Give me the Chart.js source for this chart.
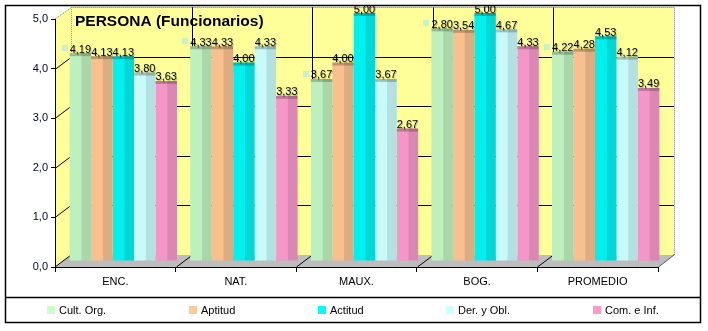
<!DOCTYPE html>
<html><head><meta charset="utf-8">
<script src="https://cdn.jsdelivr.net/npm/chart.js@4.4.0/dist/chart.umd.min.js"></script>
<style>html,body{margin:0;padding:0;background:#fff;}#wrap{width:708px;height:331px;position:relative;}</style>
</head><body><div id="wrap"><canvas id="c" width="708" height="331"></canvas></div>
<script>
const categories = ['ENC.', 'NAT.', 'MAUX.', 'BOG.', 'PROMEDIO'];
const seriesNames = ['Cult. Org.', 'Aptitud', 'Actitud', 'Der. y Obl.', 'Com. e Inf.'];
const cultOrg = [4.19, 4.33, 3.67, 4.69, 4.22];
const aptitud = [4.13, 4.33, 4.00, 4.66, 4.28];
const actitud = [4.13, 4.00, 5.00, 5.00, 4.53];
const derObl  = [3.80, 4.33, 3.67, 4.67, 4.12];
const comInf  = [3.63, 3.33, 2.67, 4.33, 3.49];
const cultOrgLabels = ['4,19', '4,33', '3,67', '2,80', '4,22'];
const aptitudLabels = ['4,13', '4,33', '4,00', '3,54', '4,28'];
const actitudLabels = ['4,13', '4,00', '5,00', '5,00', '4,53'];
const derOblLabels  = ['3,80', '4,33', '3,67', '4,67', '4,12'];
const comInfLabels  = ['3,63', '3,33', '2,67', '4,33', '3,49'];
const yTicks = [0, 1, 2, 3, 4, 5];
const titleText = 'PERSONA (Funcionarios)';

const seriesValues = [cultOrg, aptitud, actitud, derObl, comInf];
const seriesLabels = [cultOrgLabels, aptitudLabels, actitudLabels, derOblLabels, comInfLabels];
const barColors = ['#BDF0BD', '#F8C08F', '#00F0F0', '#C8FAFA', '#F596C8'];
const keyColors = ['#CCFFCC', '#FFCC99', '#00FFFF', '#CCFFFF', '#FF99CC'];

const DX = 16, DY = -12, BX = 8, BY = -6;
const FONT = 'Arial, "Liberation Sans", sans-serif';

function poly(ctx, pts, fill, stroke) {
  ctx.beginPath();
  ctx.moveTo(pts[0][0], pts[0][1]);
  for (let i = 1; i < pts.length; i++) ctx.lineTo(pts[i][0], pts[i][1]);
  ctx.closePath();
  if (fill) { ctx.fillStyle = fill; ctx.fill(); }
  if (stroke) { ctx.strokeStyle = stroke; ctx.stroke(); }
}
function line(ctx, pts, color, dash) {
  ctx.beginPath();
  ctx.setLineDash(dash || []);
  ctx.moveTo(pts[0][0], pts[0][1]);
  for (let i = 1; i < pts.length; i++) ctx.lineTo(pts[i][0], pts[i][1]);
  ctx.strokeStyle = color; ctx.lineWidth = 1; ctx.stroke();
  ctx.setLineDash([]);
}

const walls = {
  id: 'walls',
  beforeDraw(chart) {
    const { ctx, chartArea: a, scales: { x, y } } = chart;
    ctx.save();
    ctx.fillStyle = '#fff'; ctx.fillRect(0, 0, chart.width, chart.height);
    ctx.fillStyle = '#FFFF99';
    ctx.fillRect(a.left + DX, a.top + DY, a.right - a.left, a.bottom - a.top);
    poly(ctx, [[a.left, a.top], [a.left + DX, a.top + DY], [a.left + DX, a.bottom + DY], [a.left, a.bottom]], '#FFFF99');
    poly(ctx, [[a.left, a.bottom], [a.right, a.bottom], [a.right + DX, a.bottom + DY], [a.left + DX, a.bottom + DY]], '#BDBDBD');
    yTicks.forEach(v => {
      if (v === 0 || v === 5) return;
      const py = Math.round(y.getPixelForValue(v)) + 0.5;
      line(ctx, [[a.left, py], [a.left + DX, py + DY], [a.right + DX, py + DY]], '#000');
    });
    for (let i = 1; i < categories.length; i++) {
      const bx = Math.round((x.getPixelForValue(i - 1) + x.getPixelForValue(i)) / 2) + 0.5;
      line(ctx, [[bx + DX, a.top + DY], [bx + DX, a.bottom + DY]], '#000');
      line(ctx, [[bx, a.bottom], [bx + DX, a.bottom + DY]], '#000');
    }
    line(ctx, [[a.left, a.top], [a.left + DX + 0.5, a.top + DY + 0.5], [a.right + DX + 0.5, a.top + DY + 0.5], [a.right + DX + 0.5, a.bottom + DY]], '#777', [1, 1]);
    line(ctx, [[a.left + DX + 0.5, a.top + DY], [a.left + DX + 0.5, a.bottom + DY]], '#999', [1, 1]);
    line(ctx, [[a.left, a.bottom], [a.left + DX, a.bottom + DY]], '#000');
    line(ctx, [[a.right + 0.5, a.bottom], [a.right + DX, a.bottom + DY], [a.right + DX, a.bottom + DY - 1]], '#555');
    ctx.restore();
  },
  beforeDatasetsDraw(chart) {
    chart.ctx.save();
    chart.ctx.translate(BX, BY);
  },
  afterDatasetsDraw(chart) {
    const ctx = chart.ctx;
    chart.data.datasets.forEach((ds, i) => {
      const meta = chart.getDatasetMeta(i);
      meta.data.forEach(bar => {
        const p = bar.getProps(['x', 'y', 'base', 'width'], true);
        const l = p.x - p.width / 2;
        ctx.fillStyle = 'rgba(0,0,0,0.10)';
        ctx.fillRect(p.x + p.width * 0.05, p.y, p.width * 0.45, p.base - p.y);
        ctx.fillStyle = 'rgba(0,0,0,0.22)';
        ctx.fillRect(l, p.y, p.width, 3);
      });
    });
    ctx.restore();
  },
  afterDraw(chart) {
    const { ctx, chartArea: a } = chart;
    ctx.save();
    ctx.font = '11px ' + FONT;
    ctx.textAlign = 'center';
    ctx.textBaseline = 'bottom';
    chart.data.datasets.forEach((ds, i) => {
      const meta = chart.getDatasetMeta(i);
      meta.data.forEach((bar, j) => {
        const p = bar.getProps(['x', 'y'], true);
        const tx = p.x + BX, ty = p.y + BY + 2;
        const txt = seriesLabels[i][j];
        if (i === 0) {
          const tw = ctx.measureText(txt).width;
          ctx.fillStyle = '#C8F2C8';
          ctx.fillRect(Math.round(tx - tw / 2 - 8), Math.round(ty - 10), 6, 6);
        }
        ctx.fillStyle = 'rgba(0,0,0,0.25)';
        ctx.fillText(txt, tx + 1, ty + 1);
        ctx.fillStyle = '#000';
        ctx.fillText(txt, tx, ty);
      });
    });
    ctx.textAlign = 'left';
    ctx.textBaseline = 'alphabetic';
    ctx.font = 'bold 15.5px ' + FONT;
    ctx.fillStyle = '#000';
    ctx.fillText(titleText, a.left + DX + 4, a.top + DY + 19);
    ctx.strokeStyle = '#000';
    ctx.lineWidth = 1.5;
    ctx.strokeRect(5.5, 5.5, 695, 317);
    ctx.beginPath(); ctx.moveTo(5.5, 297.5); ctx.lineTo(700.5, 297.5); ctx.stroke();
    // legend: items spaced evenly (space-around)
    ctx.font = '11px ' + FONT;
    ctx.textBaseline = 'middle';
    const items = chart.data.datasets.map(ds => 8 + 4 + ctx.measureText(ds.label).width);
    const total = items.reduce((s, w) => s + w, 0);
    const gap = (695 - total) / items.length;
    let cur = 5.5 + gap / 2;
    chart.data.datasets.forEach((ds, k) => {
      const sx = Math.round(cur);
      ctx.fillStyle = keyColors[k];
      ctx.fillRect(sx, 306, 8, 8);
      ctx.fillStyle = '#000';
      ctx.fillText(ds.label, sx + 12, 310.5);
      cur += items[k] + gap;
    });
    ctx.restore();
  }
};

new Chart(document.getElementById('c'), {
  type: 'bar',
  data: {
    labels: categories,
    datasets: seriesNames.map((name, i) => ({
      label: name,
      data: seriesValues[i],
      backgroundColor: barColors[i],
      borderWidth: 0,
      barPercentage: 1,
      categoryPercentage: 0.89,
      clip: false
    }))
  },
  options: {
    responsive: false,
    animation: false,
    devicePixelRatio: 1,
    layout: { padding: { top: 19, right: 50, left: 0, bottom: 0 } },
    plugins: { legend: { display: false }, tooltip: { enabled: false }, title: { display: false } },
    scales: {
      y: {
        min: 0, max: 5,
        afterBuildTicks(s) { s.ticks = yTicks.map(v => ({ value: v })); },
        afterFit(s) { s.width = 55; },
        ticks: {
          callback: v => v.toFixed(1).replace('.', ','),
          font: { size: 11, family: FONT },
          color: '#000040',
          padding: 3
        },
        grid: { drawOnChartArea: false, tickLength: 4, color: '#000' },
        border: { color: '#000', width: 1 }
      },
      x: {
        afterFit(s) { s.height = 64; },
        ticks: { font: { size: 11, family: FONT }, color: '#000', padding: 3, maxRotation: 0 },
        grid: { drawOnChartArea: false, tickLength: 5, color: '#000', offset: true },
        border: { color: '#000', width: 1 }
      }
    }
  },
  plugins: [walls]
});
</script>
</body></html>
